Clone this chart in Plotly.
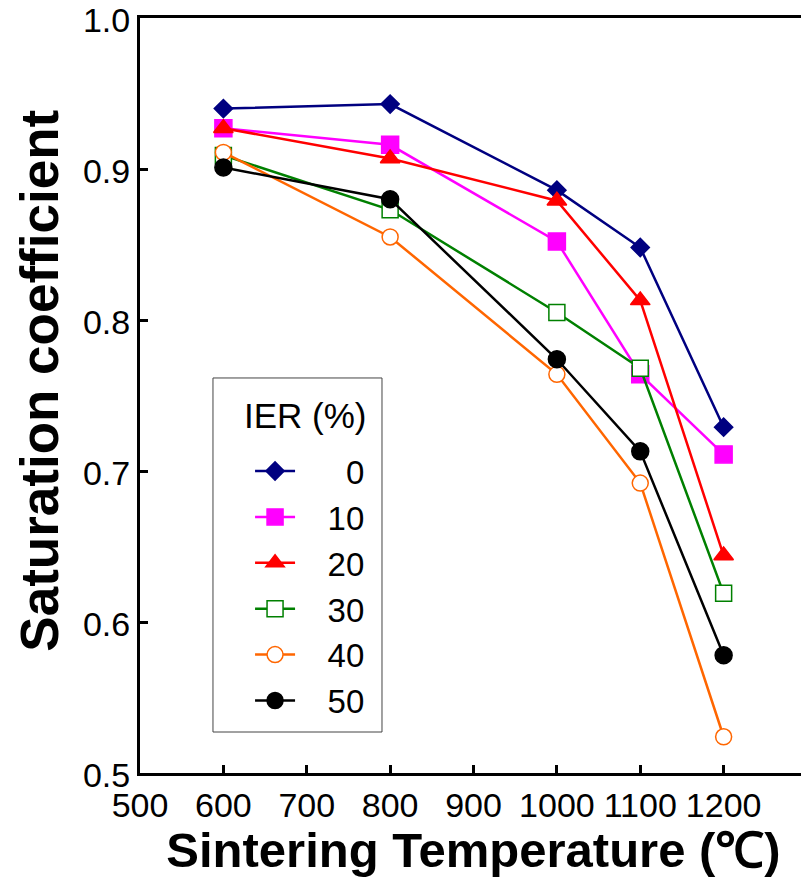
import plotly.graph_objects as go

# Sintering temperatures (deg C)
temps = [600, 800, 1000, 1100, 1200]

# Saturation coefficient for each IER content (%)
ier_0 = [0.940, 0.943, 0.886, 0.848, 0.729]
ier_10 = [0.927, 0.916, 0.852, 0.764, 0.711]
ier_20 = [0.927, 0.907, 0.879, 0.813, 0.644]
ier_30 = [0.909, 0.873, 0.805, 0.768, 0.619]
ier_40 = [0.911, 0.855, 0.764, 0.692, 0.524]
ier_50 = [0.901, 0.880, 0.774, 0.713, 0.578]

labels = ["0", "10", "20", "30", "40", "50"]
x_ticks = [500, 600, 700, 800, 900, 1000, 1100, 1200]
y_ticks = [0.5, 0.6, 0.7, 0.8, 0.9, 1.0]

FONT = "Liberation Sans, Arial, sans-serif"
FS = "\u2007"  # figure space, keeps legend numbers right-aligned
NB = "\u00a0"

series = [
    (ier_0, "#000080", "diamond", 14, "#000080"),
    (ier_10, "#ff00ff", "square", 17, "#ff00ff"),
    (ier_20, "#ff0000", "triangle-up", 17, "#ff0000"),
    (ier_30, "#008000", "square", 16, "white"),
    (ier_40, "#ff6600", "circle", 16, "white"),
    (ier_50, "#000000", "circle", 17, "#000000"),
]

fig = go.Figure()
for (vals, col, sym, sz, fill), lab in zip(series, labels):
    fig.add_trace(go.Scatter(
        x=temps, y=vals,
        mode="lines+markers",
        name=NB * 3 + FS * (2 - len(lab)) + lab,
        line=dict(color=col, width=2.5),
        marker=dict(symbol=sym, size=sz, color=fill,
                    line=dict(color=col, width=1.5)),
    ))

# legend frame and its title, drawn by hand so spacing matches
fig.add_shape(type="rect", xref="paper", yref="paper",
              x0=0.1094, x1=0.3628, y0=0.0543, y1=0.5232,
              line=dict(color="#444444", width=1), fillcolor="white",
              layer="above")
fig.add_annotation(text="IER (%)", xref="paper", yref="paper",
                   x=0.153, y=0.474, xanchor="left", yanchor="middle",
                   showarrow=False, font=dict(size=35))

# the page adds an 8px body margin, so the figure is 8px smaller
fig.update_layout(
    width=801, height=869,
    margin=dict(l=132, r=2, t=10, b=104),
    paper_bgcolor="white",
    plot_bgcolor="white",
    font=dict(family=FONT, color="black", size=34),
    showlegend=True,
    legend=dict(
        font=dict(size=33),
        x=0.165, y=0.437, xanchor="left", yanchor="top",
        bgcolor="rgba(0,0,0,0)",
        borderwidth=0,
        itemwidth=40,
    ),
)

fig.update_xaxes(
    range=[500, 1300],
    tickvals=x_ticks,
    ticks="inside", ticklen=8, tickwidth=2.5, tickcolor="black",
    showline=True, linecolor="black", linewidth=3, mirror=True,
    showgrid=False, zeroline=False, automargin=False,
    ticklabeloverflow="allow",
    tickfont=dict(size=34),
    title=dict(text="<b>Sintering Temperature (\u2103)</b>",
               font=dict(size=49), standoff=10),
)
fig.update_yaxes(
    range=[0.5, 1.0],
    tickvals=y_ticks,
    tickformat=".1f",
    ticks="inside", ticklen=8, tickwidth=2.5, tickcolor="black",
    showline=True, linecolor="black", linewidth=3, mirror=True,
    showgrid=False, zeroline=False, automargin=False,
    ticklabeloverflow="allow", ticklabelshift=2,
    tickfont=dict(size=34),
    title=dict(text="<b>" + NB * 2 + "Saturation coefficient</b>",
               font=dict(size=53), standoff=8),
)

fig.write_html("out.html")
